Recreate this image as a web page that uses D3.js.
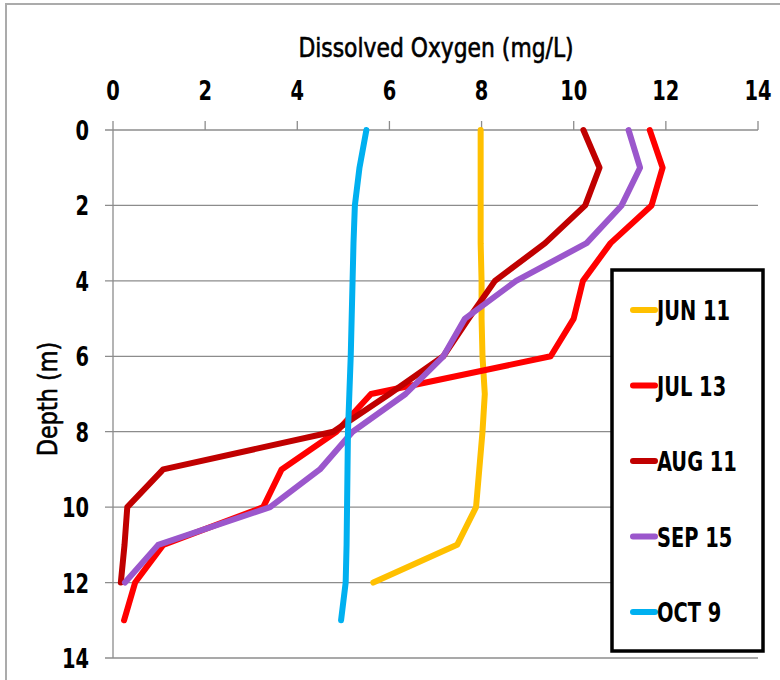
<!DOCTYPE html>
<html>
  <head>
    <title></title>
    <style type="text/css">
        html, body{
            padding: 0px;
            margin: 0px;
            background: #fff;
        }
        svg text{
            font-family: "DejaVu Sans Condensed", "DejaVu Sans", sans-serif;
        }
    </style>
  </head>
  <body>
    <div id="vis"></div>
    <script src="https://cdnjs.cloudflare.com/ajax/libs/d3/7.8.5/d3.min.js"></script>
    <script type="text/javascript">

        // depth in metres, one value per metre
        var depths = [0, 1, 2, 3, 4, 5, 6, 7, 8, 9, 10, 11, 12, 13];

        var series = ["JUN 11", "JUL 13", "AUG 11", "SEP 15", "OCT 9"];
        var colors = ["#FFC000", "#FF0000", "#C00000", "#9B57CC", "#00B0F0"];

        var jun11 = [7.98, 7.98, 7.98, 7.98, 8.0, 8.0, 8.02, 8.07, 8.02, 7.95, 7.88, 7.47, 5.65];
        var jul13 = [11.65, 11.93, 11.69, 10.8, 10.2, 10.0, 9.5, 5.6, 4.85, 3.66, 3.26, 1.09, 0.48, 0.24];
        var aug11 = [10.21, 10.56, 10.25, 9.38, 8.29, 7.72, 7.17, 6.0, 4.78, 1.09, 0.31, 0.25, 0.17];
        var sep15 = [11.19, 11.44, 11.04, 10.28, 8.75, 7.64, 7.17, 6.35, 5.2, 4.49, 3.41, 0.98, 0.26];
        var oct9  = [5.5, 5.35, 5.25, 5.22, 5.2, 5.18, 5.16, 5.13, 5.1, 5.09, 5.08, 5.07, 5.05, 4.95];

        var values = [jun11, jul13, aug11, sep15, oct9];

        var xTicks = [0, 2, 4, 6, 8, 10, 12, 14];
        var yTicks = [0, 2, 4, 6, 8, 10, 12, 14];

        var width = 780, height = 680;
        var margin = {top: 130, left: 113, right: 22, bottom: 22};

        var svg = d3.select("#vis").append("svg")
            .attr("width", width)
            .attr("height", height);

        // outer chart border (only top and left show in the crop)
        svg.append("rect")
            .attr("x", 6).attr("y", 4)
            .attr("width", width + 20).attr("height", height + 20)
            .attr("fill", "none")
            .attr("stroke", "#ababab")
            .attr("stroke-width", 2);

        var x = d3.scaleLinear().domain([0, 14]).range([margin.left, width - margin.right]);
        var y = d3.scaleLinear().domain([0, 14]).range([margin.top, height - margin.bottom]);

        // horizontal gridlines
        svg.append("g")
            .selectAll("line")
            .data(yTicks)
            .join("line")
            .attr("x1", margin.left - 8)
            .attr("x2", x(14))
            .attr("y1", d => y(d))
            .attr("y2", d => y(d))
            .attr("stroke", "#8c8c8c")
            .attr("stroke-width", 1.3);

        // left axis line
        svg.append("line")
            .attr("x1", x(0)).attr("x2", x(0))
            .attr("y1", y(0)).attr("y2", y(14))
            .attr("stroke", "#8c8c8c")
            .attr("stroke-width", 1.3);

        // top ticks
        svg.append("g")
            .selectAll("line")
            .data(xTicks)
            .join("line")
            .attr("x1", d => x(d)).attr("x2", d => x(d))
            .attr("y1", y(0) - 9).attr("y2", y(0))
            .attr("stroke", "#8c8c8c")
            .attr("stroke-width", 1.3);

        // text is squeezed a bit horizontally to look like the narrow original face
        svg.append("g")
            .selectAll("text")
            .data(xTicks)
            .join("text")
            .attr("transform", d => "translate(" + x(d) + ",100) scale(0.8,1)")
            .attr("text-anchor", "middle")
            .attr("font-size", 27)
            .attr("font-weight", "bold")
            .text(d => d);

        svg.append("g")
            .selectAll("text")
            .data(yTicks)
            .join("text")
            .attr("transform", d => "translate(89," + (y(d) + 10) + ") scale(0.8,1)")
            .attr("text-anchor", "end")
            .attr("font-size", 27)
            .attr("font-weight", "bold")
            .text(d => d);

        svg.append("text")
            .attr("transform", "translate(436,57) scale(0.9,1)")
            .attr("text-anchor", "middle")
            .attr("font-size", 27)
            .attr("stroke", "#000")
            .attr("stroke-width", 0.6)
            .text("Dissolved Oxygen (mg/L)");

        svg.append("text")
            .attr("transform", "translate(57,399) rotate(-90) scale(0.92,1)")
            .attr("text-anchor", "middle")
            .attr("font-size", 27)
            .attr("stroke", "#000")
            .attr("stroke-width", 0.6)
            .text("Depth (m)");

        var line = d3.line()
            .x(d => x(d[0]))
            .y(d => y(d[1]));

        values.forEach(function(vals, i){
            var pts = vals.map((v, j) => [v, depths[j]]);
            svg.append("path")
                .datum(pts)
                .attr("d", line)
                .attr("fill", "none")
                .attr("stroke", colors[i])
                .attr("stroke-width", 6)
                .attr("stroke-linejoin", "round")
                .attr("stroke-linecap", "round");
        });

        // legend
        var lg = svg.append("g");
        lg.append("rect")
            .attr("x", 612).attr("y", 270)
            .attr("width", 151).attr("height", 381)
            .attr("fill", "#fff")
            .attr("stroke", "#000")
            .attr("stroke-width", 3.5);

        var item = lg.selectAll("g.item")
            .data(series)
            .join("g")
            .attr("class", "item")
            .attr("transform", (d, i) => "translate(0," + (310 + i * 75.5) + ")");

        item.append("line")
            .attr("x1", 633).attr("x2", 655)
            .attr("y1", 0).attr("y2", 0)
            .attr("stroke", (d, i) => colors[i])
            .attr("stroke-width", 6)
            .attr("stroke-linecap", "round");

        item.append("text")
            .attr("transform", "translate(657,10) scale(0.8,1)")
            .attr("font-size", 27)
            .attr("font-weight", "bold")
            .text(d => d);

    </script>
  </body>
</html>
